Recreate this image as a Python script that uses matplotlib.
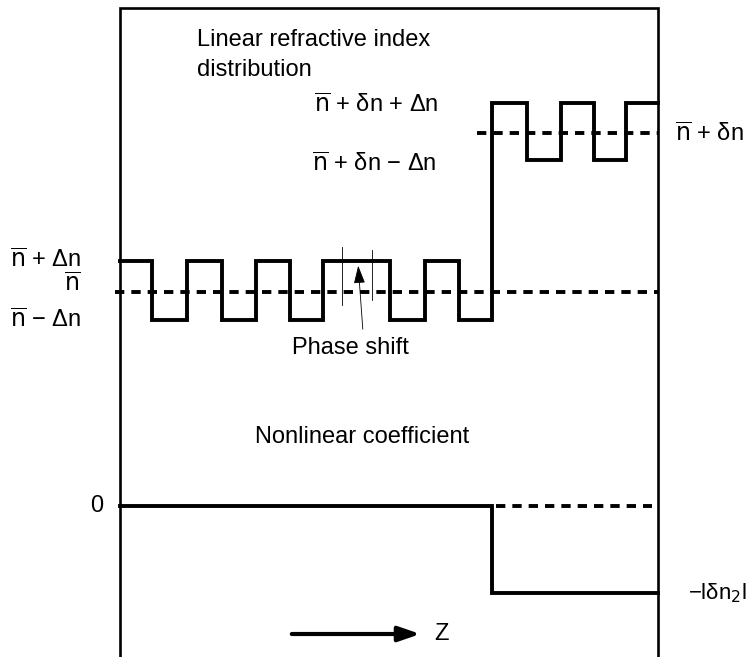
import matplotlib
matplotlib.use('Agg')
import numpy as np
import matplotlib.pyplot as plt

plt.rcParams['font.family'] = ['Liberation Sans', 'DejaVu Sans']

# frame of the sketch (pixel-like units, y grows downwards)
frame_left, frame_right, frame_top, frame_bottom = 120, 658, 8, 657

# linear refractive index: grating before the step (phase shift in the middle)
grating1_edges = [120, 152, 187, 222, 256, 290, 323, 390, 425, 459, 492]
grating1_high, grating1_low, grating1_mean = 261, 320, 292
# grating after the step (index raised by delta n)
grating2_edges = [492, 527, 561, 594, 626, 658]
grating2_high, grating2_low, grating2_mean = 103, 160, 133

# nonlinear coefficient: zero, then -|dn2| after the step
nl_edges = [120, 492, 658]
nl_levels = [506, 593]

phase_marks = [(342, 247, 305), (372, 250, 300)]


def square_wave(edges, high, low):
    xs, ys = [], []
    for i in range(len(edges) - 1):
        lev = high if i % 2 == 0 else low
        xs += [edges[i], edges[i + 1]]
        ys += [lev, lev]
    return xs, ys


fig = plt.figure(figsize=(7.47, 6.57), dpi=100)
ax = fig.add_axes([0, 0, 1, 1])
ax.set_xlim(0, 747)
ax.set_ylim(657, 0)
ax.axis('off')

lw_frame = 1.9
lw_wave = 2.8
dash = (0, (2.4, 1.8))

ax.plot([frame_left, frame_left, frame_right, frame_right],
        [frame_bottom, frame_top, frame_top, frame_bottom],
        color='black', lw=lw_frame, solid_joinstyle='miter')

# index profile: first grating, step up, second grating
x1, y1 = square_wave(grating1_edges, grating1_high, grating1_low)
x2, y2 = square_wave(grating2_edges, grating2_high, grating2_low)
ax.plot(x1 + x2, y1 + y2, color='black', lw=lw_wave,
        solid_joinstyle='miter')
ax.plot([115, frame_right], [grating1_mean, grating1_mean], color='black',
        lw=lw_wave, linestyle=dash)
ax.plot([477, frame_right], [grating2_mean, grating2_mean], color='black',
        lw=lw_wave, linestyle=dash)

# phase shift markers
for xm, ya, yb in phase_marks:
    ax.plot([xm, xm], [ya, yb], color='black', lw=0.6)
ax.annotate('', xy=(358, 263), xytext=(363, 332),
            arrowprops=dict(arrowstyle='-|>,head_length=1.1,head_width=0.35',
                            color='black', lw=0.6))

# nonlinear coefficient
ax.plot([nl_edges[0], nl_edges[1], nl_edges[1], nl_edges[2]],
        [nl_levels[0], nl_levels[0], nl_levels[1], nl_levels[1]],
        color='black', lw=lw_wave, solid_joinstyle='miter')
ax.plot([496, 652], [nl_levels[0], nl_levels[0]], color='black',
        lw=lw_wave, linestyle=dash)

# propagation direction
ax.annotate('', xy=(423, 634), xytext=(289, 634),
            arrowprops=dict(arrowstyle='-|>,head_length=1.3,head_width=0.45',
                            color='black', lw=3))

fs = 17
nbar = r'$\overline{\mathrm{n}}$'
ax.text(197, 40, 'Linear refractive index', fontsize=fs, va='center')
ax.text(197, 70, 'distribution', fontsize=fs, va='center')
ax.text(314, 105, nbar + ' + δn + Δn', fontsize=fs, va='center')
ax.text(312, 164, nbar + ' + δn − Δn', fontsize=fs, va='center')
ax.text(675, 134, nbar + ' + δn', fontsize=fs, va='center')
ax.text(81, 260, nbar + ' + Δn', fontsize=fs, va='center', ha='right')
ax.text(81, 285, nbar, fontsize=fs, va='center', ha='right')
ax.text(81, 320, nbar + ' − Δn', fontsize=fs, va='center', ha='right')
ax.text(350, 348, 'Phase shift', fontsize=fs, va='center', ha='center')
ax.text(255, 437, 'Nonlinear coefficient', fontsize=fs, va='center')
ax.text(103, 506, '0', fontsize=fs, va='center', ha='right')
ax.text(688, 593, r'−lδn$_2$l', fontsize=16, va='center')
ax.text(434, 634, 'Z', fontsize=fs, va='center')

fig.savefig('out.png', dpi=100)
